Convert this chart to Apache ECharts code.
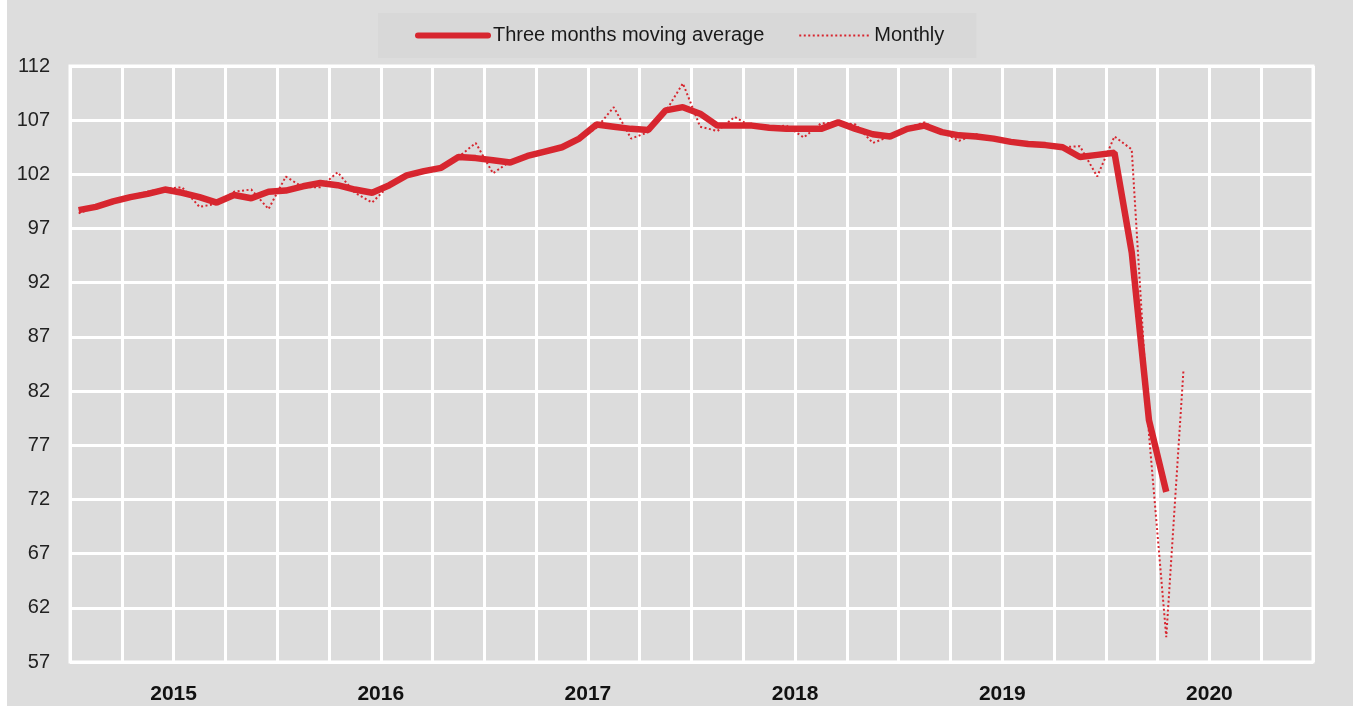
<!DOCTYPE html>
<html>
<head>
<meta charset="utf-8">
<script src="https://cdn.jsdelivr.net/npm/echarts@6/dist/echarts.min.js"></script>
<style>
  html, body { margin: 0; padding: 0; background: #fff; }
  #chart { position: absolute; left: 7px; top: 0; width: 1346px; height: 706px; }
</style>
</head>
<body>
<div id="chart"></div>
<script>
// years shown under the axis, months are the real categories
const years = ['2015', '2016', '2017', '2018', '2019', '2020']
const monthNames = ['01', '02', '03', '04', '05', '06', '07', '08', '09', '10', '11', '12']
const months = years.flatMap(y => monthNames.map(m => y + '-' + m))

// three months moving average (Jan 2015 - Apr 2020)
const movingAverage = [
  98.7, 99.0, 99.5, 99.9, 100.2, 100.6, 100.3, 99.9, 99.4, 100.1, 99.8, 100.4,
  100.5, 100.9, 101.2, 101.0, 100.6, 100.3, 101.0, 101.9, 102.3, 102.6, 103.6, 103.5,
  103.3, 103.1, 103.7, 104.1, 104.5, 105.3, 106.6, 106.4, 106.2, 106.1, 107.9, 108.2,
  107.6, 106.5, 106.5, 106.5, 106.3, 106.2, 106.2, 106.2, 106.8, 106.2, 105.7, 105.5,
  106.2, 106.5, 105.9, 105.6, 105.5, 105.3, 105.0, 104.8, 104.7, 104.5, 103.6, 103.8,
  104.0, 94.8, 79.3, 72.7
]

// monthly index (Jan 2015 - May 2020)
const monthly = [
  98.4, 99.0, 99.5, 100.0, 100.4, 100.7, 100.8, 99.0, 99.3, 100.4, 100.6, 98.8,
  101.8, 100.8, 100.8, 102.2, 100.3, 99.4, 101.0, 101.9, 102.3, 102.6, 103.6, 104.9,
  102.1, 103.2, 103.7, 104.1, 104.5, 105.2, 106.3, 108.2, 105.3, 105.9, 107.8, 110.4,
  106.4, 106.0, 107.3, 106.4, 106.4, 106.5, 105.4, 106.7, 106.8, 106.6, 104.9, 105.5,
  106.3, 106.8, 105.9, 105.1, 105.7, 105.3, 105.0, 104.8, 104.7, 104.5, 104.6, 101.8,
  105.5, 104.3, 78.0, 59.3, 84.0
]

const RED = '#d7262f'
const FONT = '"Liberation Sans", Arial, sans-serif'

const chart = echarts.init(document.getElementById('chart'), null, { renderer: 'canvas' })

chart.setOption({
  backgroundColor: '#dddddd',
  animation: false,
  legend: {
    left: 371,
    top: 13,
    padding: [11, 32, 11, 37],
    backgroundColor: '#d8d8d8',
    itemGap: 34,
    itemWidth: 70,
    itemHeight: 14,
    textStyle: { fontFamily: FONT, fontSize: 20, color: '#1a1a1a', lineHeight: 23 },
    data: [
      {
        name: 'Three months moving average',
        itemStyle: { opacity: 0 },
        lineStyle: { width: 6, cap: 'round' }
      },
      {
        name: 'Monthly',
        itemStyle: { opacity: 0 },
        lineStyle: { width: 2, type: [2, 2.5] }
      }
    ]
  },
  grid: {
    left: 63,
    right: 40,
    top: 66,
    bottom: 44,
    show: true,
    backgroundColor: '#dcdcdc',
    borderColor: '#ffffff',
    borderWidth: 3
  },
  xAxis: [
    {
      type: 'category',
      data: months,
      boundaryGap: true,
      axisLine: { show: false },
      axisTick: { show: false },
      axisLabel: { show: false },
      splitLine: {
        show: true,
        interval: (index) => index % 3 === 0,
        lineStyle: { color: '#ffffff', width: 3 }
      }
    },
    {
      type: 'category',
      data: years,
      position: 'bottom',
      boundaryGap: true,
      axisLine: { show: false },
      axisTick: { show: false },
      splitLine: { show: false },
      axisLabel: {
        margin: 22,
        fontFamily: FONT,
        fontSize: 21,
        fontWeight: 'bold',
        color: '#111'
      }
    }
  ],
  yAxis: {
    type: 'value',
    min: 57,
    max: 112,
    interval: 5,
    axisLine: { show: false },
    axisTick: { show: false },
    axisLabel: {
      margin: 20,
      fontFamily: FONT,
      fontSize: 20,
      color: '#222'
    },
    splitLine: { lineStyle: { color: '#ffffff', width: 3 } }
  },
  series: [
    {
      name: 'Monthly',
      type: 'line',
      xAxisIndex: 0,
      data: monthly,
      showSymbol: false,
      symbol: 'none',
      lineStyle: { color: RED, width: 2, type: [2, 2.5] },
      itemStyle: { color: RED },
      z: 2
    },
    {
      name: 'Three months moving average',
      type: 'line',
      xAxisIndex: 0,
      data: movingAverage,
      showSymbol: false,
      symbol: 'none',
      lineStyle: { color: RED, width: 6.5 },
      itemStyle: { color: RED },
      z: 3
    }
  ]
})
</script>
</body>
</html>
